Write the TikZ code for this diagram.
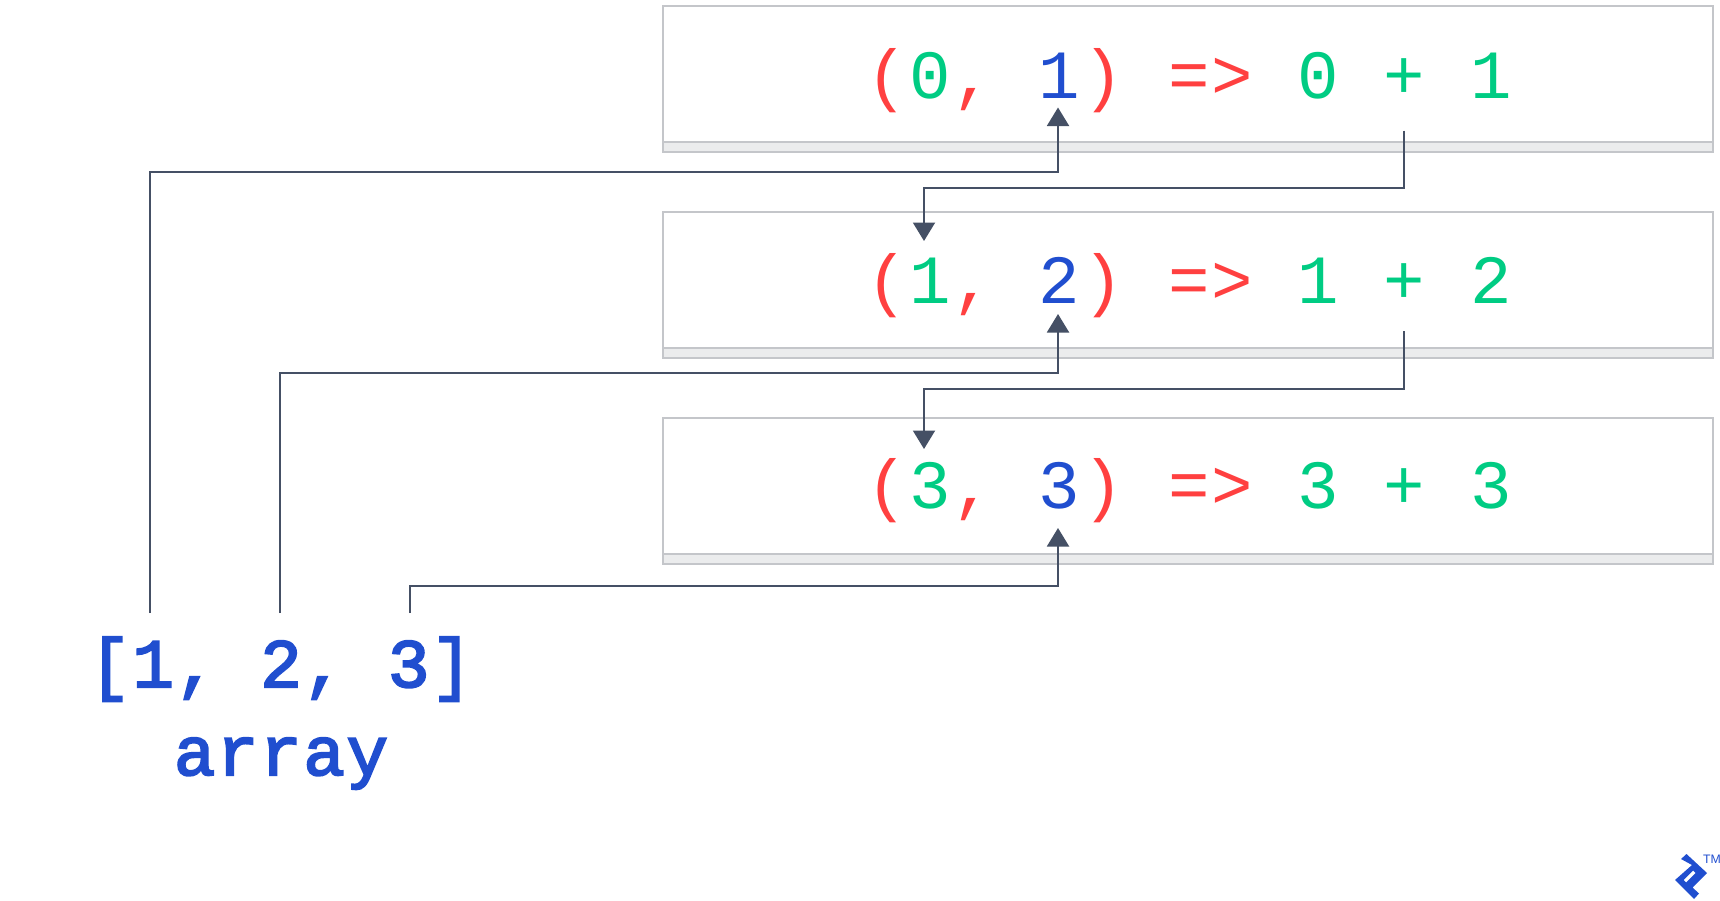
\documentclass[tikz,border=0pt]{standalone}
\usepackage{xcolor}
\usepackage{fontspec}
\setmainfont{Liberation Sans}
\newfontfamily\codelight{Liberation Mono}
\newfontfamily\codeheavy[FakeBold=3,LetterSpace=2.5]{Liberation Mono}
\usetikzlibrary{arrows.meta,positioning}
\definecolor{codered}{HTML}{FF4040}
\definecolor{codegreen}{HTML}{00CC83}
\definecolor{codeblue}{HTML}{204ECF}
\definecolor{linkgray}{HTML}{455065}
\definecolor{framegray}{HTML}{C4C6CA}
\definecolor{stripgray}{HTML}{EBECED}
\newcommand{\rd}[1]{\makebox[24.55pt]{\textcolor{codered}{#1}}}
\newcommand{\gr}[1]{\makebox[24.55pt]{\textcolor{codegreen}{#1}}}
\newcommand{\bl}[1]{\makebox[24.55pt]{\textcolor{codeblue}{#1}}}
\newcommand{\gap}{\hspace*{24.55pt}}

\begin{document}
\begin{tikzpicture}[
    x=0.02cm, y=-0.02cm,
    framebox/.style={draw=framegray, line width=0.04cm, fill=white, minimum width=21.02cm, minimum height=2.93cm, inner sep=0pt, outer sep=0pt},
    strip/.style={draw=framegray, line width=0.04cm, fill=stripgray, minimum width=21.02cm, minimum height=0.2cm, inner sep=0pt, outer sep=0pt},
    codeline/.style={anchor=base, inner sep=0pt, font=\fontsize{39.3}{48}\codelight},
    arraytext/.style={anchor=base, inner sep=0pt, text=codeblue, font=\fontsize{39.3}{48}\codeheavy},
    link/.style={draw=linkgray, line width=0.04cm, -{Triangle[width=0.44cm,length=0.37cm]}, color=linkgray}
]
  \useasboundingbox (0,0) rectangle (1720,900);

  % Frames
  \node[framebox, anchor=north west] (frame1) at (662.5,6) {};
  \node[framebox, below=1.19cm of frame1] (frame2) {};
  \node[framebox, below=1.19cm of frame2] (frame3) {};
  \node[strip, anchor=south] (strip1) at (frame1.south) {};
  \node[strip, anchor=south] (strip2) at (frame2.south) {};
  \node[strip, anchor=south] (strip3) at (frame3.south) {};

  % Code lines
  \node[codeline] (row1) at (1189,98) {\rd{(}\gr{0}\rd{,}\gap\bl{1}\rd{)}\gap\rd{=}\rd{>}\gap\gr{0}\gap\gr{+}\gap\gr{1}};
  \node[codeline] (row2) at (1189,303) {\rd{(}\gr{1}\rd{,}\gap\bl{2}\rd{)}\gap\rd{=}\rd{>}\gap\gr{1}\gap\gr{+}\gap\gr{2}};
  \node[codeline] (row3) at (1189,508) {\rd{(}\gr{3}\rd{,}\gap\bl{3}\rd{)}\gap\rd{=}\rd{>}\gap\gr{3}\gap\gr{+}\gap\gr{3}};
  \node[arraytext] (items) at (281,687) {[1, 2, 3]};
  \node[arraytext] (name) at (281,775) {array};

  % Connector ends
  \coordinate (item1) at (150,613);
  \coordinate (item2) at (280,613);
  \coordinate (item3) at (410,613);
  \coordinate (tip1) at (1058,107.5);
  \coordinate (tip2) at (1058,314);
  \coordinate (tip3) at (1058,528);
  \coordinate (sum1) at (1404,130.5);
  \coordinate (sum2) at (1404,331);
  \coordinate (pair2) at (924,241);
  \coordinate (pair3) at (924,449);

  % Connectors
  \draw[link] (item1) |- (1058,171.7) -- (tip1);
  \draw[link] (item2) |- (1058,373) -- (tip2);
  \draw[link] (item3) |- (1058,586) -- (tip3);
  \draw[link] (sum1) |- (924,188) -- (pair2);
  \draw[link] (sum2) |- (924,389) -- (pair3);

  % Logo
  \fill[codeblue, even odd rule] (1686.5,854) -- (1707,873) -- (1692.5,887.5) -- (1699,893.5) -- (1694,899) -- (1675,880) -- (1692,865) -- (1681,859) -- cycle
    (1683.5,880) -- (1693,870.5) -- (1695.5,873) -- (1686,882.5) -- cycle;
  \node[inner sep=0pt, anchor=center, text=codeblue, font=\fontsize{7}{9}\selectfont] (mark) at (1712,859) {TM};
\end{tikzpicture}
\end{document}
